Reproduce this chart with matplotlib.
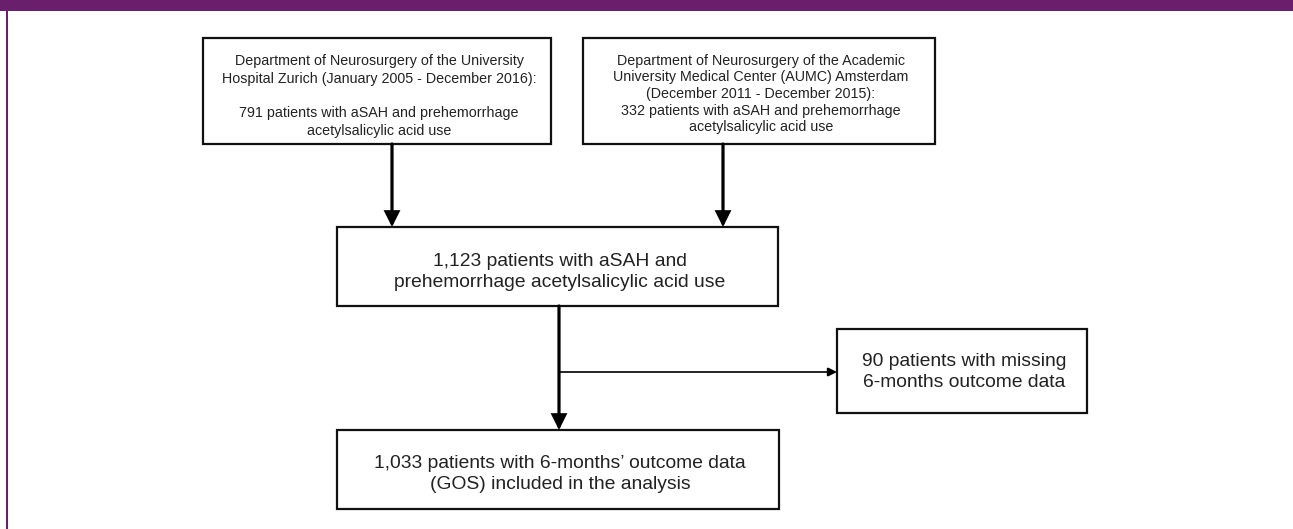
import matplotlib
matplotlib.use("Agg")
import matplotlib.pyplot as plt
from matplotlib.patches import Rectangle, FancyArrowPatch, ArrowStyle

# ---- content ----
box_texts = [
    ["Department of Neurosurgery of the University\nHospital Zurich (January 2005 - December 2016):",
     "791 patients with aSAH and prehemorrhage\nacetylsalicylic acid use"],
    ["Department of Neurosurgery of the Academic\nUniversity Medical Center (AUMC) Amsterdam\n(December 2011 - December 2015):\n332 patients with aSAH and prehemorrhage\nacetylsalicylic acid use"],
    ["1,123 patients with aSAH and\nprehemorrhage acetylsalicylic acid use"],
    ["90 patients with missing\n6-months outcome data"],
    ["1,033 patients with 6-months\u2019 outcome data\n(GOS) included in the analysis"],
]

# ---- layout (pixel coordinates: left, top, right, bottom) ----
boxes = [
    (203, 38, 551, 144),
    (583, 38, 935, 144),
    (337, 227, 778, 306),
    (837, 329, 1087, 413),
    (337, 430, 779, 509),
]
text_centers_y = [[70, 122], [94], [272], [372], [474]]
font_sizes = [10.3, 10.3, 13.9, 13.9, 13.9]
line_spacings = [1.42, 1.25, 1.3, 1.3, 1.3]

W, H = 1293, 529
fig = plt.figure(figsize=(W / 100, H / 100), dpi=100)
ax = fig.add_axes([0, 0, 1, 1])
ax.set_xlim(0, W)
ax.set_ylim(H, 0)
ax.axis("off")

purple = "#6a1f6d"
# top banner and left border
ax.add_patch(Rectangle((0, 0), W, 11, facecolor=purple, edgecolor="none"))
ax.add_patch(Rectangle((5.5, 0), 2, H, facecolor=purple, edgecolor="none"))

for (l, t, r, b), txts, ys, fs, ls in zip(boxes, box_texts, text_centers_y,
                                           font_sizes, line_spacings):
    ax.add_patch(Rectangle((l, t), r - l, b - t, facecolor="white",
                           edgecolor="#111111", linewidth=1.6))
    for txt, y in zip(txts, ys):
        ax.text((l + r) / 2 + 2, y, txt, ha="center", va="center",
                fontsize=fs, family="Liberation Sans", color="#222222",
                linespacing=ls)

head = ArrowStyle("-|>", head_length=0.6, head_width=0.3)

def arrow(p0, p1, lw, ms):
    ax.add_patch(FancyArrowPatch(p0, p1, arrowstyle=head, mutation_scale=ms,
                                 linewidth=lw, color="black",
                                 shrinkA=0, shrinkB=0, joinstyle="miter"))

# arrows from the two source boxes to the merged box
arrow((392, 144), (392, 227), 2.3, 14)
arrow((723, 144), (723, 227), 2.3, 14)
# main vertical arrow to the final box
arrow((559, 306), (559, 430), 2.3, 14)
# branch to the excluded box
arrow((559, 372), (837, 372), 1.2, 9)

fig.savefig("out.png", dpi=100, facecolor="white")
